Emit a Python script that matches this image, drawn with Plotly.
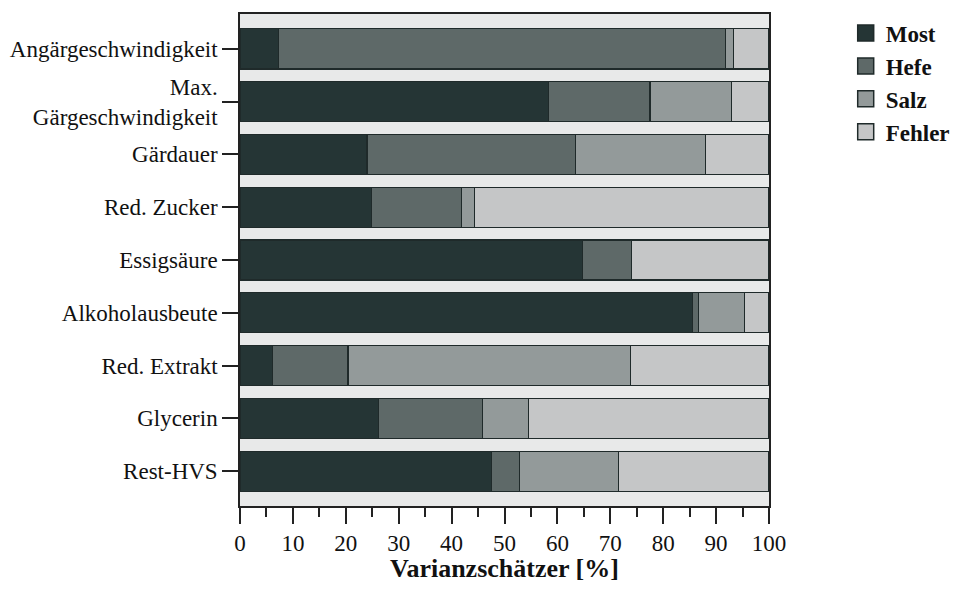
import plotly.graph_objects as go

categories = ["Angärgeschwindigkeit", "Max.<br>Gärgeschwindigkeit", "Gärdauer", "Red. Zucker",
              "Essigsäure", "Alkoholausbeute", "Red. Extrakt", "Glycerin", "Rest-HVS"]
most   = [7.3, 58.3, 24.0, 24.9, 64.7, 85.6, 6.1, 26.2, 47.6]
hefe   = [84.5, 19.2, 39.4, 17.0, 9.3, 1.0, 14.3, 19.7, 5.2]
salz   = [1.5, 15.4, 24.6, 2.5, 0.0, 8.7, 53.4, 8.6, 18.7]
fehler = [6.7, 7.1, 12.0, 55.6, 26.0, 4.7, 26.2, 45.5, 28.5]
tick_vals = list(range(0, 101, 10))
x_title = "Varianzschätzer [%]"

series = [("Most", most, "#253535"), ("Hefe", hefe, "#5e6968"),
          ("Salz", salz, "#939a9a"), ("Fehler", fehler, "#c5c6c7")]

font_family = "Liberation Serif, Times New Roman, serif"
edge = "#1f2a2a"

fig = go.Figure()
for name, vals, col in series:
    fig.add_trace(go.Bar(
        y=categories, x=vals, name=name, orientation="h",
        marker=dict(color=col, line=dict(color=edge, width=1.2)),
        width=0.76, showlegend=False,
    ))
# legend entries with larger square symbols
for name, vals, col in series:
    fig.add_trace(go.Scatter(
        x=[None], y=[None], mode="markers", name=name,
        marker=dict(symbol="square", size=16, color=col, line=dict(color=edge, width=1.5)),
    ))

fig.update_layout(
    width=950, height=574,
    margin=dict(l=232, r=189, t=6, b=76, autoexpand=False),
    plot_bgcolor="#e8e9e9",
    paper_bgcolor="white",
    font=dict(family=font_family, size=23, color="#111"),
    legend=dict(x=1.145, y=1.005, xanchor="left", yanchor="top",
                font=dict(family=font_family, size=23, color="#111", weight="bold"),
                traceorder="normal", itemwidth=30, tracegroupgap=0, itemsizing="trace"),
    barmode="stack",
    annotations=[dict(text=x_title, xref="paper", yref="paper", x=0.5, y=0,
                      xanchor="center", yanchor="middle", yshift=-62, showarrow=False,
                      font=dict(family=font_family, size=26, color="#111", weight="bold"))],
)
fig.update_xaxes(
    range=[0, 100], tickvals=tick_vals, ticks="outside", ticklen=16, tickwidth=1.5,
    tickcolor="#222", showgrid=False, zeroline=False, automargin=False,
    showline=True, linecolor="#222", linewidth=1.5, mirror=True,
    minor=dict(dtick=5, ticks="outside", ticklen=9, tickwidth=1.5, tickcolor="#222"),
    tickfont=dict(family=font_family, size=23, color="#111"),
)
fig.update_yaxes(
    categoryorder="array", categoryarray=categories, automargin=False,
    range=[8.66, -0.66], ticks="outside", ticklen=16, tickwidth=1.5, tickcolor="#222",
    showgrid=False, showline=True, linecolor="#222", linewidth=1.5, mirror=True,
    tickfont=dict(family=font_family, size=23, color="#111"),
)

fig.write_html("out.html")
